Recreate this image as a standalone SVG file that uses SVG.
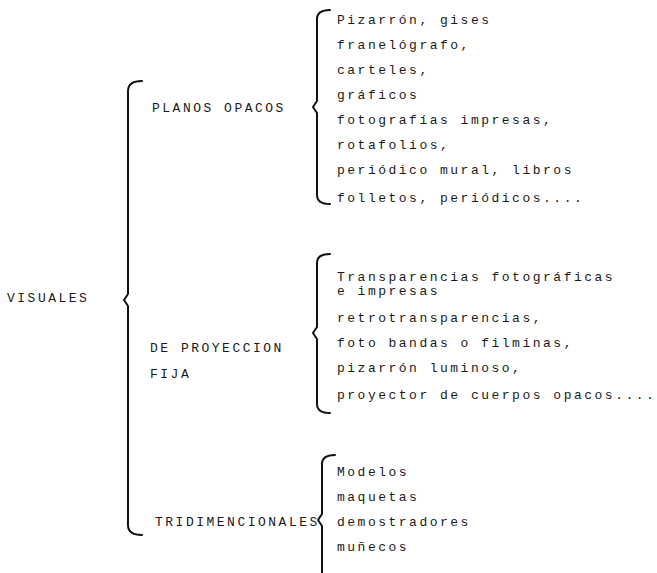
<svg xmlns="http://www.w3.org/2000/svg" width="657" height="573" viewBox="0 0 657 573">
<style>
text{font-family:"Liberation Mono","DejaVu Sans Mono",monospace;font-size:13px;fill:#1a1a1a;letter-spacing:2.5px}
.br{fill:none;stroke:#111;stroke-width:2;stroke-linejoin:round;stroke-linecap:round}
</style>
<rect width="657" height="573" fill="#fff"/>
<g id="connectors">
<path class="br" d="M142,81 Q128,81 128,91 V294 L124,300 L128,306 V525 Q128,535 142,535"/>
<path class="br" d="M330,10 Q317,10 317,19 V101 L313,107 L317,113 V195 Q317,204 330,204"/>
<path class="br" d="M330,254 Q317,254 317,263 V327 L313,333 L317,339 V404 Q317,413 330,413"/>
<path class="br" d="M335,455 Q322,455 322,464 V514 L318,520 L322,526 V580"/>
</g>
<g id="visuales"><text x="7" y="302">VISUALES</text></g>
<g id="planos-opacos">
<text x="152" y="112">PLANOS OPACOS</text>
</g>
<g id="planos-items">
<text x="337" y="24">Pizarrón, gises</text>
<text x="337" y="49">franelógrafo,</text>
<text x="337" y="74">carteles,</text>
<text x="337" y="99">gráficos</text>
<text x="337" y="124">fotografías impresas,</text>
<text x="337" y="149">rotafolios,</text>
<text x="337" y="174">periódico mural, libros</text>
<text x="337" y="202">folletos, periódicos....</text>
</g>
<g id="proyeccion-fija">
<text x="150" y="352">DE PROYECCION</text>
<text x="150" y="378">FIJA</text>
</g>
<g id="proyeccion-items">
<text x="337" y="281">Transparencias fotográficas</text>
<text x="337" y="295">e impresas</text>
<text x="337" y="322">retrotransparencias,</text>
<text x="337" y="347">foto bandas o filminas,</text>
<text x="337" y="372">pizarrón luminoso,</text>
<text x="337" y="399">proyector de cuerpos opacos....</text>
</g>
<g id="tridimencionales">
<text x="155" y="526">TRIDIMENCIONALES</text>
</g>
<g id="tridimencionales-items">
<text x="337" y="476">Modelos</text>
<text x="337" y="501">maquetas</text>
<text x="337" y="526">demostradores</text>
<text x="337" y="551">muñecos</text>
</g>
</svg>
